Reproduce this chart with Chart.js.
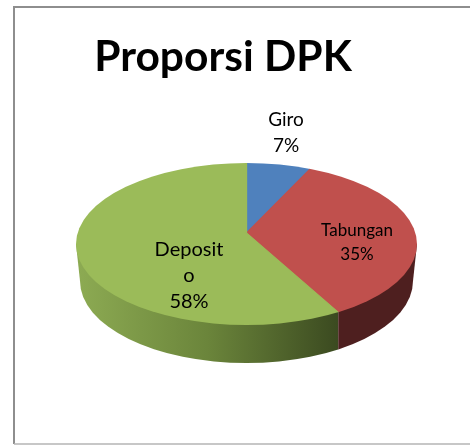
<!DOCTYPE html>
<html><head><meta charset="utf-8">
<style>html,body{margin:0;padding:0;background:#fff}canvas{display:block}</style>
<script src="https://cdn.jsdelivr.net/npm/chart.js@4/dist/chart.umd.min.js"></script>
</head><body>
<canvas id="c" width="470" height="445"></canvas>
<script>
const categories = ['Giro', 'Tabungan', 'Deposito'];
const shares = [7, 35, 58];
const sliceColors = ['#4f81bd', '#c0504d', '#9bbb59'];
const chartTitle = 'Proporsi DPK';

const view = {apexX:246.5, apexY:233, squash:0.475, radius:240,
  top:{cx:246.5, cy:244, rx:170.5, ry:81},
  bottom:{cx:246.5, cy:281, rx:166.5, ry:82}};

function ellipsePath(ctx, e){ ctx.beginPath(); ctx.ellipse(e.cx, e.cy, e.rx, e.ry, 0, 0, Math.PI*2); }

// x position at which a slice edge reaches the rim of the top face
function rimX(angle){
  const t = view.top, dx = Math.cos(angle), dy = Math.sin(angle)*view.squash;
  const ox = view.apexX-t.cx, oy = view.apexY-t.cy;
  const a = dx*dx/(t.rx*t.rx)+dy*dy/(t.ry*t.ry);
  const b = 2*(ox*dx/(t.rx*t.rx)+oy*dy/(t.ry*t.ry));
  const c = ox*ox/(t.rx*t.rx)+oy*oy/(t.ry*t.ry)-1;
  const s = (-b+Math.sqrt(b*b-4*a*c))/(2*a);
  return view.apexX+s*dx;
}

const pie3d = {
  id:'pie3d',
  beforeDatasetsDraw(chart){
    const ctx = chart.ctx, t = view.top, b = view.bottom;
    const arcs = chart.getDatasetMeta(0).data;
    const split = rimX(arcs[1].endAngle);
    // side wall
    const wall = () => {
      ellipsePath(ctx, b); ctx.fill();
      ctx.beginPath();
      ctx.moveTo(t.cx-t.rx, t.cy); ctx.lineTo(b.cx-b.rx, b.cy);
      ctx.lineTo(b.cx+b.rx, b.cy); ctx.lineTo(t.cx+t.rx, t.cy);
      ctx.closePath(); ctx.fill();
    };
    ctx.save();
    ctx.beginPath(); ctx.rect(0,0,split,445); ctx.clip();
    const g = ctx.createLinearGradient(t.cx-t.rx,0,split,0);
    g.addColorStop(0,'#8dab53'); g.addColorStop(0.5,'#6b853b'); g.addColorStop(1,'#3b4a20');
    ctx.fillStyle = g; wall();
    ctx.restore();
    ctx.save();
    ctx.beginPath(); ctx.rect(split,0,470-split,445); ctx.clip();
    ctx.fillStyle = '#4e1f1f'; wall();
    ctx.restore();
    // top face: the library's arcs seen through a squash, cut to the rim
    ctx.save();
    ellipsePath(ctx, t); ctx.clip();
    const k = view.radius/arcs[0].outerRadius;
    ctx.translate(view.apexX, view.apexY);
    ctx.scale(k, k*view.squash);
    ctx.translate(-arcs[0].x, -arcs[0].y);
  },
  afterDatasetsDraw(chart){
    const ctx = chart.ctx;
    ctx.restore();
    ctx.fillStyle = '#000';
    ctx.textAlign = 'center'; ctx.textBaseline = 'middle';
    const lab = (lines, x, ys, size) => {
      ctx.font = size+'px Lato';
      lines.forEach((l,i)=>ctx.fillText(l, x, ys[i]));
    };
    lab([categories[0], shares[0]+'%'], 286, [120,146], 19);
    lab([categories[1], shares[1]+'%'], 357, [231,255], 17);
    lab([categories[2].slice(0,7), categories[2].slice(7), shares[2]+'%'], 189, [250,276,302], 20);
    // frame: left, top and bottom rules run to the page edge
    ctx.strokeStyle = '#8e8e8e'; ctx.lineWidth = 2;
    ctx.beginPath(); ctx.moveTo(470,7); ctx.lineTo(14,7); ctx.lineTo(14,444); ctx.stroke();
    ctx.strokeStyle = '#b5b5b5'; ctx.lineWidth = 1.5;
    ctx.beginPath(); ctx.moveTo(14,444); ctx.lineTo(470,444); ctx.stroke();
  }
};

new Chart(document.getElementById('c'), {
  type:'pie',
  data:{labels:categories, datasets:[{data:shares, backgroundColor:sliceColors, borderColor:sliceColors, borderWidth:1}]},
  plugins:[pie3d],
  options:{
    responsive:false, animation:false,
    layout:{padding:{right:24}},
    plugins:{
      legend:{display:false}, tooltip:{enabled:false},
      title:{display:true, text:chartTitle, color:'#000',
        font:{family:'Lato', size:42.5, weight:'bold'}, padding:{top:32,bottom:10}}
    }
  }
});
</script>
</body></html>
